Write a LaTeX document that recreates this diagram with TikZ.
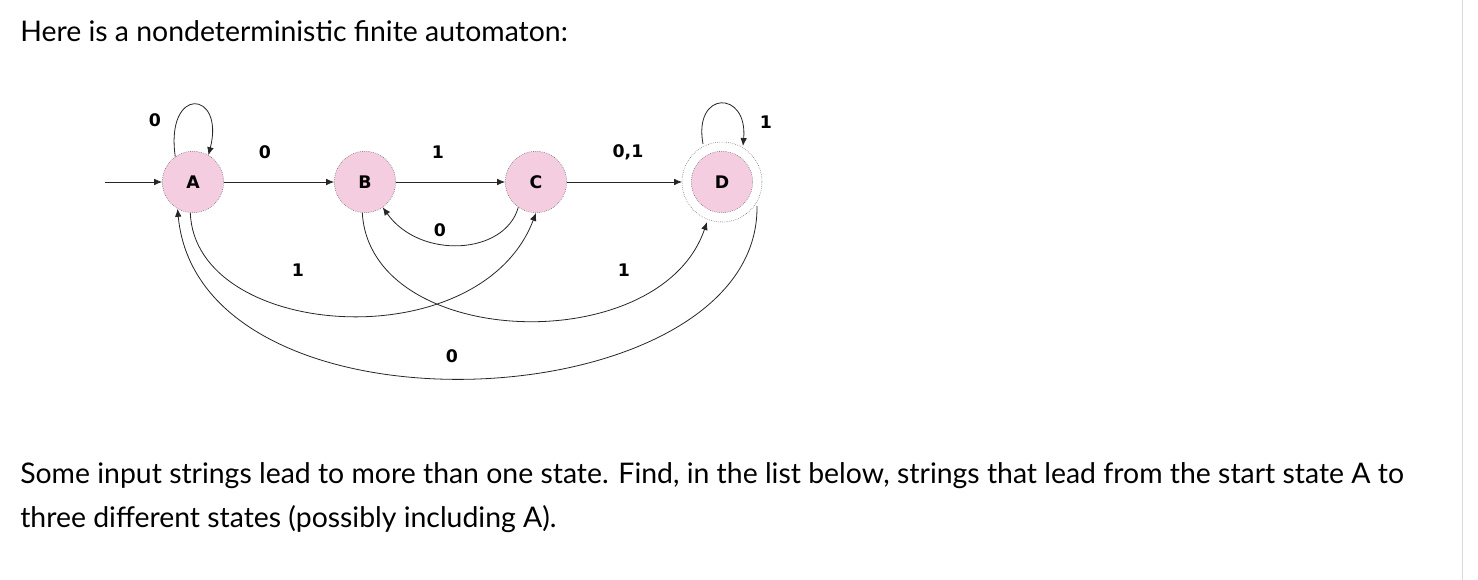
\documentclass[tikz,border=0pt]{standalone}
\usepackage{fontspec}
\setmainfont{Lato}
\newfontfamily\vfont{DejaVu Sans}
\usetikzlibrary{arrows.meta}
\definecolor{st}{RGB}{245,205,225}
\begin{document}
\begin{tikzpicture}[x=0.75pt,y=-0.75pt,
  state/.style={circle,fill=st,draw=black!70,densely dotted,minimum size=46pt,inner sep=0pt,font=\vfont\bfseries\fontsize{13}{15}\selectfont},
  lab/.style={font=\vfont\bfseries\fontsize{13}{15}\selectfont},
  tr/.style={-{Latex[length=6pt,width=5pt]},black!85,line width=0.6pt},
  txt/.style={font=\fontsize{21.3}{25}\selectfont,anchor=west,inner sep=0pt}]
\useasboundingbox (0,0) rectangle (1478,580);
\draw[black!15] (1462,0) -- (1462,580);
\node[txt] (t1) at (20,31) {Here is a nondeterministic finite automaton:};
\node[txt] (t2) at (20,476) {Some input strings lead to more than one state. Find, in the list below, strings that lead from the start state A to};
\node[txt] (t3) at (20,519) {three different states (possibly including A).};
\node[state] (A) at (193,182) {A};
\node[state] (B) at (365,182) {B};
\node[state] (C) at (536,182) {C};
\node[state] (D) at (722,182) {D};
\draw[black!70,densely dotted] (D) circle (30pt);
\coordinate (s) at (105,182);
\coordinate (Dl) at (682,182);
\coordinate (Dt) at (743,146);
\coordinate (Db) at (707,222);
\coordinate (Dr) at (757,206);
\coordinate (Dtl) at (703,144);
\draw[tr] (s) -- (A);
\draw[tr] (A) -- (B);
\draw[tr] (B) -- (C);
\draw[tr] (C) -- (Dl);
\draw[tr] (A.125) .. controls (165,85) and (225,90) .. (A.60);
\draw[tr] (Dtl) .. controls (693,90) and (748,90) .. (Dt);
\draw[tr] (C.235) .. controls (505,255) and (420,260) .. (B.305);
\draw[tr] (A.265) .. controls (195,340) and (480,360) .. (C.270);
\draw[tr] (B.265) .. controls (370,350) and (660,360) .. (Db);
\draw[tr] (Dr) .. controls (760,420) and (200,450) .. (A.240);
\node[lab] (l1) at (155,120) {0};
\node[lab] (l2) at (265,152) {0};
\node[lab] (l3) at (438,152) {1};
\node[lab] (l4) at (628,152) {0,1};
\node[lab] (l5) at (766,122) {1};
\node[lab] (l6) at (440,230) {0};
\node[lab] (l7) at (298,270) {1};
\node[lab] (l8) at (624,270) {1};
\node[lab] (l9) at (452,356) {0};
\end{tikzpicture}
\end{document}
